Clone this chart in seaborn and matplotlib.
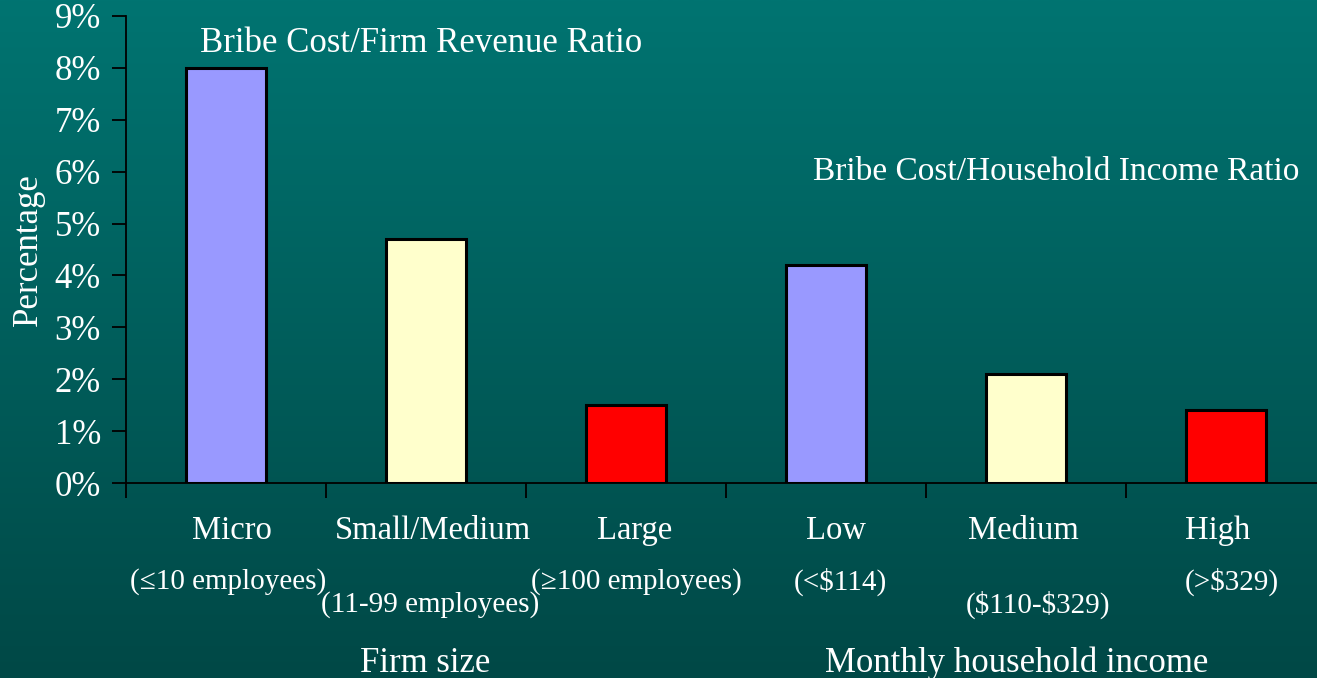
import numpy as np
import pandas as pd
import matplotlib
matplotlib.use("Agg")
import matplotlib.pyplot as plt
import matplotlib.transforms as mtransforms
import seaborn as sns

# chart values
categories = ["Micro", "Small/Medium", "Large", "Low", "Medium", "High"]
ratios = [8.0, 4.7, 1.5, 4.2, 2.1, 1.4]
subtitles = ["(\u226410 employees)", "(11-99 employees)", "(\u2265100 employees)",
             "(<\\$114)", "(\\$110-\\$329)", "(>\\$329)"]
groups = ["Firm size", "Firm size", "Firm size",
          "Monthly household income", "Monthly household income", "Monthly household income"]
bar_colors = ["#9999FF", "#FFFFCC", "#FF0000", "#9999FF", "#FFFFCC", "#FF0000"]
y_ticks = list(range(0, 10))

df = pd.DataFrame({"category": categories, "ratio": ratios, "group": groups})

sns.set_style("white")
plt.rcParams["font.family"] = ["Liberation Serif", "DejaVu Serif"]

W, H = 1317, 678
fig = plt.figure(figsize=(W / 100, H / 100), dpi=100)

# teal gradient background
bg = fig.add_axes([0, 0, 1, 1], zorder=-10)
grad = np.linspace(0, 1, 256).reshape(-1, 1)
top = np.array([0x00, 0x74, 0x71]) / 255
bot = np.array([0x00, 0x48, 0x46]) / 255
img = top[None, None, :] * (1 - grad[:, :, None]) + bot[None, None, :] * grad[:, :, None]
bg.imshow(img, aspect="auto", extent=[0, 1, 0, 1])
bg.set_axis_off()

ax = fig.add_axes([126 / W, (H - 483) / H, 1200 / W, (483 - 16) / H])
ax.set_facecolor("none")

sns.barplot(data=df, x="category", y="ratio", hue="category", palette=bar_colors,
            legend=False, width=0.4, edgecolor="black", linewidth=2.2, saturation=1, ax=ax)

ax.set_xlim(-0.5, len(categories) - 0.5)
ax.set_ylim(0, 9)
ax.set_yticks(y_ticks)
ax.set_yticklabels([f"{t}%" for t in y_ticks], color="white", fontsize=25)
ax.tick_params(axis="y", direction="out", length=10, width=1.3, color="black", pad=8, left=True)
ax.set_xticks(np.arange(len(categories) + 1) - 0.5)
ax.set_xticklabels([])
ax.tick_params(axis="x", direction="out", length=11, width=1.3, color="black", bottom=True)
ax.set_xlabel("")
ax.set_ylabel("Percentage", color="white", fontsize=25)
ax.yaxis.label.set_va("center")
ax.yaxis.set_label_coords(-98 / 1200, 0.5)

for side in ["top", "right"]:
    ax.spines[side].set_visible(False)
for side in ["left", "bottom"]:
    ax.spines[side].set_color("black")
    ax.spines[side].set_linewidth(1.3)

# category labels below the axis
tr = mtransforms.blended_transform_factory(ax.transData, fig.transFigure)
name_dx = [0.03, 0.035, 0.045, 0.05, -0.015, -0.04]
sub_y = [582, 605, 582, 582, 605, 582]
sub_dx = [0.01, 0.02, 0.05, 0.07, 0.06, 0.03]
for i, (name, sub) in enumerate(zip(categories, subtitles)):
    ax.text(i + name_dx[i], 1 - 531 / H, name, transform=tr, ha="center", va="center",
            color="white", fontsize=23.5)
    ax.text(i + sub_dx[i], 1 - sub_y[i] / H, sub, transform=tr, ha="center", va="center",
            color="white", fontsize=21)

group_dx = {"Firm size": -0.005, "Monthly household income": -0.045}
for name in dict.fromkeys(groups):
    idx = [i for i, g in enumerate(groups) if g == name]
    ax.text(np.mean(idx) + group_dx[name], 1 - 663 / H, name, transform=tr,
            ha="center", va="center", color="white", fontsize=25)

fig.text(200 / W, 1 - 44 / H, "Bribe Cost/Firm Revenue Ratio", ha="left", va="center",
         color="white", fontsize=25)
fig.text(813 / W, 1 - 172 / H, "Bribe Cost/Household Income Ratio", ha="left", va="center",
         color="white", fontsize=24)

fig.savefig("out.png", dpi=100)
